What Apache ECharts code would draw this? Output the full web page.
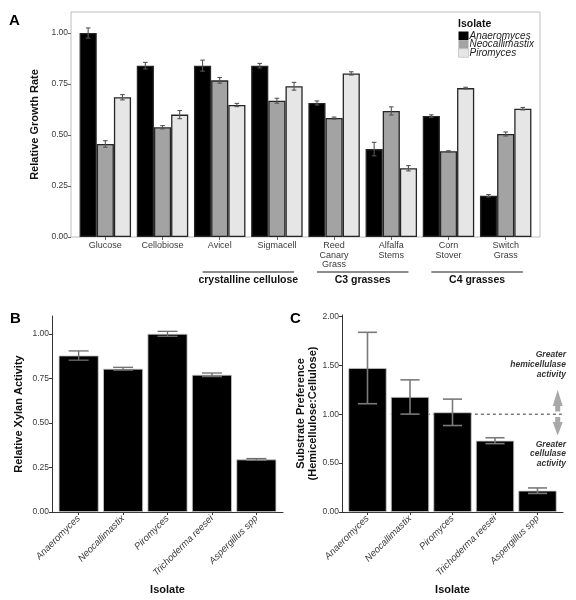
<!DOCTYPE html>
<html><head><meta charset="utf-8">
<script src="https://cdn.jsdelivr.net/npm/echarts@6/dist/echarts.min.js"></script>
<style>html,body{margin:0;padding:0;background:#fff}#c{width:576px;height:600px}</style>
</head><body><div id="c"></div>
<script>
// ---------- DATA ----------
const substrates = ['Glucose', 'Cellobiose', 'Avicel', 'Sigmacell', 'Reed\nCanary\nGrass', 'Alfalfa\nStems', 'Corn\nStover', 'Switch\nGrass'];
const isolatesA = ['Anaeromyces', 'Neocallimastix', 'Piromyces'];
const growthAnaeromyces = [1.00, 0.84, 0.84, 0.84, 0.657, 0.431, 0.593, 0.202];
const growthNeocallimastix = [0.456, 0.538, 0.768, 0.668, 0.583, 0.618, 0.420, 0.505];
const growthPiromyces = [0.685, 0.600, 0.647, 0.739, 0.802, 0.337, 0.730, 0.629];
const errAnaeromyces = [0.025, 0.016, 0.027, 0.011, 0.010, 0.033, 0.006, 0.006];
const errNeocallimastix = [0.016, 0.008, 0.014, 0.012, 0.005, 0.020, 0.003, 0.010];
const errPiromyces = [0.013, 0.020, 0.008, 0.019, 0.008, 0.013, 0.004, 0.006];
const substrateGroups = [
  { label: 'crystalline cellulose', first: 2, last: 3 },
  { label: 'C3 grasses', first: 4, last: 5 },
  { label: 'C4 grasses', first: 6, last: 7 }
];
const isolatesBC = ['Anaeromyces', 'Neocallimastix', 'Piromyces', 'Trichoderma reesei', 'Aspergillus spp'];
const xylanActivity = [0.878, 0.804, 1.000, 0.770, 0.295];
const xylanErr = [0.026, 0.008, 0.014, 0.010, 0.005];
const substratePref = [1.472, 1.176, 1.019, 0.729, 0.218];
const prefErr = [0.365, 0.175, 0.135, 0.030, 0.028];
const prefReference = 1.0;
const yTicksA = [0, 0.25, 0.5, 0.75, 1.0];
const yTicksB = [0, 0.25, 0.5, 0.75, 1.0];
const yTicksC = [0, 0.5, 1.0, 1.5, 2.0];

// ---------- STYLE ----------
const FONT = '"Liberation Sans", Arial, sans-serif';
const colorsA = ['#000000', '#a3a3a3', '#e6e6e6'];
const growth = [growthAnaeromyces, growthNeocallimastix, growthPiromyces];
const errs = [errAnaeromyces, errNeocallimastix, errPiromyces];
const dodge = 0.9 / 3;

const chart = echarts.init(document.getElementById('c'), null, { renderer: 'canvas' });

function errRender(capHalf, color, lw) {
  return function (params, api) {
    const x = api.value(0), lo = api.value(1), hi = api.value(2);
    const pt = api.coord([x, hi]), pb = api.coord([x, lo]);
    const pl = api.coord([x - capHalf, hi])[0], pr = api.coord([x + capHalf, hi])[0];
    const st = { stroke: color, lineWidth: lw };
    return { type: 'group', children: [
      { type: 'line', shape: { x1: pt[0], y1: pt[1], x2: pb[0], y2: pb[1] }, style: st },
      { type: 'line', shape: { x1: pl, y1: pt[1], x2: pr, y2: pt[1] }, style: st },
      { type: 'line', shape: { x1: pl, y1: pb[1], x2: pr, y2: pb[1] }, style: st }
    ] };
  };
}

const catIdx = n => Array.from({ length: n }, (_, i) => i + 1);
const tickLabel = { fontFamily: FONT, fontSize: 8.5, color: '#3a3a3a' };
const yFmt = v => v.toFixed(2);

const series = [];
isolatesA.forEach((name, s) => {
  series.push({
    name, type: 'bar', xAxisIndex: 0, yAxisIndex: 0,
    data: growth[s].map((v, i) => [i + 1, v]),
    barGap: '0%', barCategoryGap: '10%',
    itemStyle: { color: colorsA[s], borderColor: '#262626', borderWidth: 1.3 },
    emphasis: { disabled: true }
  });
});
const errDataA = [];
isolatesA.forEach((name, s) => growth[s].forEach((v, i) => {
  const x = i + 1 + (s - 1) * dodge;
  errDataA.push([x, v - errs[s][i], v + errs[s][i]]);
}));
series.push({ type: 'custom', xAxisIndex: 0, yAxisIndex: 0, data: errDataA, z: 5,
  renderItem: errRender(0.04, '#555', 1.1), silent: true });
// group brackets under panel A
series.push({ type: 'custom', xAxisIndex: 0, yAxisIndex: 0, clip: false, silent: true,
  data: substrateGroups.map((g, i) => [g.first + 1, g.last + 1, i]),
  renderItem: function (params, api) {
    const a = api.value(0), b = api.value(1);
    const x0 = api.coord([a - 0.3, 0])[0], x1 = api.coord([b + 0.3, 0])[0];
    const y0 = api.coord([a, 0])[1];
    return { type: 'group', children: [
      { type: 'line', shape: { x1: x0, y1: y0 + 35, x2: x1, y2: y0 + 35 }, style: { stroke: '#8c8c8c', lineWidth: 2 } },
      { type: 'text', style: { x: (x0 + x1) / 2, y: y0 + 43, text: substrateGroups[api.value(2)].label,
        align: 'center', verticalAlign: 'middle', font: 'bold 10.5px ' + FONT, fill: '#111' } }
    ] };
  }
});

// Panel B
series.push({ type: 'bar', xAxisIndex: 1, yAxisIndex: 1,
  data: xylanActivity.map((v, i) => [i + 1, v]), barCategoryGap: '10%',
  itemStyle: { color: '#000', borderColor: '#c8c8c8', borderWidth: 0.8 }, emphasis: { disabled: true } });
series.push({ type: 'custom', xAxisIndex: 1, yAxisIndex: 1, z: 5, silent: true,
  data: xylanActivity.map((v, i) => [i + 1, v - xylanErr[i], v + xylanErr[i]]),
  renderItem: errRender(0.225, '#6e6e6e', 1.3) });

// Panel C
series.push({ type: 'line', xAxisIndex: 2, yAxisIndex: 2, symbol: 'none', silent: true, z: 1,
  data: [[1.55, prefReference], [5.6, prefReference]],
  lineStyle: { color: '#222', width: 0.9, type: [3, 3] } });
series.push({ type: 'bar', xAxisIndex: 2, yAxisIndex: 2, z: 2,
  data: substratePref.map((v, i) => [i + 1, v]), barCategoryGap: '10%',
  itemStyle: { color: '#000', borderColor: '#c8c8c8', borderWidth: 0.8 }, emphasis: { disabled: true } });
series.push({ type: 'custom', xAxisIndex: 2, yAxisIndex: 2, z: 5, silent: true,
  data: substratePref.map((v, i) => [i + 1, v - prefErr[i], v + prefErr[i]]),
  renderItem: errRender(0.225, '#7a7a7a', 1.6) });

const axisTitle = { fontFamily: FONT, fontSize: 11, fontWeight: 'bold', color: '#111' };

// manual legend (keys contiguous as in reference)
const legendGraphics = [{ type: 'text', left: 458, top: 19, style: { text: 'Isolate', font: 'bold 10.5px ' + FONT, fill: '#111' } }];
isolatesA.forEach((name, s) => {
  const y = 31.5 + s * 8.6;
  legendGraphics.push({ type: 'rect', shape: { x: 458.5, y: y, width: 10, height: 8.6 },
    style: { fill: colorsA[s], stroke: s === 2 ? '#b5b5b5' : null, lineWidth: 0.6 } });
  legendGraphics.push({ type: 'text', x: 469.5, y: y + 4.5, style: { text: name, font: 'italic 10px ' + FONT, fill: '#222', verticalAlign: 'middle' } });
});

const arrowFont = 'italic bold 8.5px ' + FONT;
const option = {
  animation: false,
  backgroundColor: '#fff',
  textStyle: { fontFamily: FONT },
  grid: [
    { left: 71, top: 12, width: 469, height: 225, show: true, borderColor: '#bdbdbd', borderWidth: 1, backgroundColor: 'transparent' },
    { left: 52, top: 316, width: 231, height: 196 },
    { left: 342, top: 315, width: 221, height: 197 }
  ],
  xAxis: [
    { gridIndex: 0, type: 'value', min: 0.4, max: 8.6,
      axisLine: { show: false }, splitLine: { show: false },
      axisTick: { show: true, customValues: catIdx(8), length: 3, lineStyle: { color: '#666' } },
      axisLabel: Object.assign({}, tickLabel, { fontSize: 9, lineHeight: 9.5, margin: 4, customValues: catIdx(8),
        formatter: v => substrates[Math.round(v) - 1] || '' }) },
    { gridIndex: 1, type: 'value', min: 0.4, max: 5.6,
      axisLine: { show: true, lineStyle: { color: '#333', width: 1 } }, splitLine: { show: false },
      axisTick: { show: true, customValues: catIdx(5), length: 3, lineStyle: { color: '#333' } },
      axisLabel: Object.assign({}, tickLabel, { fontSize: 9.5, fontStyle: 'italic', rotate: 45, margin: 5, customValues: catIdx(5),
        formatter: v => isolatesBC[Math.round(v) - 1] || '' }),
      name: 'Isolate', nameLocation: 'middle', nameGap: 72, nameTextStyle: axisTitle },
    { gridIndex: 2, type: 'value', min: 0.4, max: 5.6,
      axisLine: { show: true, lineStyle: { color: '#333', width: 1 } }, splitLine: { show: false },
      axisTick: { show: true, customValues: catIdx(5), length: 3, lineStyle: { color: '#333' } },
      axisLabel: Object.assign({}, tickLabel, { fontSize: 9.5, fontStyle: 'italic', rotate: 45, margin: 5, customValues: catIdx(5),
        formatter: v => isolatesBC[Math.round(v) - 1] || '' }),
      name: 'Isolate', nameLocation: 'middle', nameGap: 72, nameTextStyle: axisTitle }
  ],
  yAxis: [
    { gridIndex: 0, type: 'value', min: 0, max: 1.103,
      axisLine: { show: false }, splitLine: { show: false },
      axisTick: { show: true, customValues: yTicksA, length: 3, lineStyle: { color: '#666' } },
      axisLabel: Object.assign({}, tickLabel, { customValues: yTicksA, formatter: yFmt, margin: 3 }),
      name: 'Relative Growth Rate', nameLocation: 'middle', nameGap: 30, nameTextStyle: axisTitle },
    { gridIndex: 1, type: 'value', min: 0, max: 1.1,
      axisLine: { show: true, lineStyle: { color: '#333', width: 1 } }, splitLine: { show: false },
      axisTick: { show: true, customValues: yTicksB, length: 3, lineStyle: { color: '#333' } },
      axisLabel: Object.assign({}, tickLabel, { customValues: yTicksB, formatter: yFmt, margin: 3 }),
      name: 'Relative Xylan Activity', nameLocation: 'middle', nameGap: 28, nameTextStyle: axisTitle },
    { gridIndex: 2, type: 'value', min: 0, max: 2.014,
      axisLine: { show: true, lineStyle: { color: '#333', width: 1 } }, splitLine: { show: false },
      axisTick: { show: true, customValues: yTicksC, length: 3, lineStyle: { color: '#333' } },
      axisLabel: Object.assign({}, tickLabel, { customValues: yTicksC, formatter: yFmt, margin: 3 }),
      name: 'Substrate Preference\n(Hemicellulose:Cellulose)', nameLocation: 'middle', nameGap: 17,
      nameTextStyle: Object.assign({}, axisTitle, { lineHeight: 12 }) }
  ],
  graphic: [
    { type: 'text', left: 9, top: 13, style: { text: 'A', font: 'bold 15px "Liberation Sans Narrow", "Liberation Sans", sans-serif', fill: '#000' } },
    { type: 'text', left: 10, top: 311, style: { text: 'B', font: 'bold 15px "Liberation Sans Narrow", "Liberation Sans", sans-serif', fill: '#000' } },
    { type: 'text', left: 290, top: 311, style: { text: 'C', font: 'bold 15px "Liberation Sans Narrow", "Liberation Sans", sans-serif', fill: '#000' } },
    // arrows panel C
    { type: 'polygon', shape: { points: [[552.7, 406], [557.7, 390], [562.7, 406], [560.2, 406], [560.2, 411.5], [555.2, 411.5], [555.2, 406]] }, style: { fill: '#a8a8a8' } },
    { type: 'polygon', shape: { points: [[552.7, 422], [557.7, 435.5], [562.7, 422], [560.2, 422], [560.2, 417], [555.2, 417], [555.2, 422]] }, style: { fill: '#a8a8a8' } },
    { type: 'text', x: 566, y: 364.7, style: { text: 'Greater\nhemicellulase\nactivity', align: 'right', verticalAlign: 'middle',
      font: arrowFont, fill: '#333', lineHeight: 9.8 } },
    { type: 'text', x: 566, y: 454, style: { text: 'Greater\ncellulase\nactivity', align: 'right', verticalAlign: 'middle',
      font: arrowFont, fill: '#333', lineHeight: 9.8 } }
  ].concat(legendGraphics),
  series
};
chart.setOption(option);
</script>
</body></html>
